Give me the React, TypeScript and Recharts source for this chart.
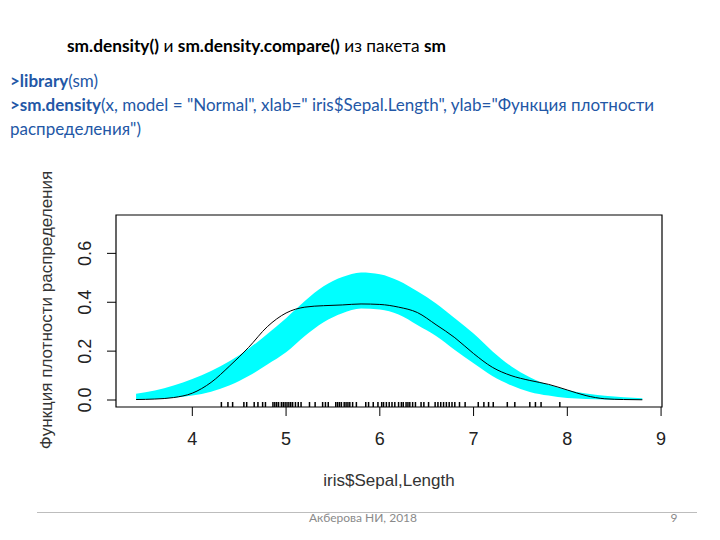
import React from "react";
import {
  ComposedChart,
  Area,
  Line,
  Scatter,
  XAxis,
  YAxis,
  ReferenceArea,
} from "recharts";

// Evaluation grid (Sepal.Length)
const xs = [
  3.4, 3.6, 3.8, 4.0, 4.2, 4.4, 4.6, 4.8, 5.0, 5.2, 5.4, 5.6, 5.8, 6.0,
  6.2, 6.4, 6.6, 6.8, 7.0, 7.2, 7.4, 7.6, 7.8, 8.0, 8.2, 8.4, 8.6, 8.8,
];
// Kernel density estimate (black curve)
const densityVals = [
  0.002, 0.004, 0.01, 0.028, 0.072, 0.14, 0.215, 0.3, 0.356, 0.38, 0.386,
  0.389, 0.393, 0.391, 0.38, 0.358, 0.308, 0.255, 0.19, 0.134, 0.1, 0.08,
  0.064, 0.041, 0.018, 0.005, 0.002, 0.001,
];
// Reference band for the Normal model (cyan)
const bandUpper = [
  0.026, 0.039, 0.059, 0.086, 0.119, 0.16, 0.21, 0.27, 0.335, 0.405, 0.465,
  0.503, 0.522, 0.515, 0.488, 0.445, 0.395, 0.335, 0.272, 0.2, 0.138, 0.093,
  0.062, 0.041, 0.027, 0.017, 0.011, 0.007,
];
const bandLower = [
  0.002, 0.004, 0.009, 0.018, 0.034, 0.06, 0.098, 0.145, 0.195, 0.262, 0.318,
  0.355, 0.374, 0.37, 0.35, 0.307, 0.262, 0.205, 0.15, 0.098, 0.06, 0.033,
  0.018, 0.008, 0.004, 0.002, 0.001, 0.0,
];
// Rug marks (observations)
const rugValues = [
  4.31, 4.38, 4.43, 4.55, 4.58, 4.66, 4.7, 4.75, 4.78, 4.86, 4.88, 4.9, 4.92,
  4.95, 4.97, 4.99, 5.01, 5.03, 5.05, 5.07, 5.1, 5.13, 5.16, 5.25, 5.31, 5.39,
  5.42, 5.45, 5.53, 5.55, 5.57, 5.59, 5.62, 5.64, 5.66, 5.68, 5.71, 5.75, 5.85,
  5.88, 5.93, 5.98, 6.02, 6.04, 6.07, 6.1, 6.13, 6.16, 6.2, 6.23, 6.25, 6.28,
  6.3, 6.32, 6.35, 6.38, 6.44, 6.47, 6.52, 6.59, 6.62, 6.65, 6.68, 6.71, 6.74,
  6.77, 6.8, 6.85, 6.91, 7.05, 7.11, 7.16, 7.21, 7.36, 7.44, 7.6, 7.66, 7.72,
  7.92,
];
const xTicks = [4, 5, 6, 7, 8, 9];
const yTicks = [0, 0.2, 0.4, 0.6];

const X_MIN = 3.186;
const X_MAX = 9.01;
const Y_MIN = -0.0286;
const Y_MAX = 0.757;

const chartData = xs.map((x, i) => ({
  x,
  density: densityVals[i],
  band: [bandLower[i], bandUpper[i]],
}));
const rugData = rugValues.map((x) => ({ x, y: Y_MIN }));

const AXIS_FONT = "'Liberation Sans', Arial, sans-serif";
const SLIDE_FONT = "Lato, 'Open Sans', sans-serif";

const YTick = (props: any) => {
  const { x, y, payload } = props;
  return (
    <text
      x={x}
      y={y}
      transform={`rotate(-90 ${x} ${y})`}
      textAnchor="middle"
      fontSize={18}
      fill="#222"
      fontFamily={AXIS_FONT}
    >
      {Number(payload.value).toFixed(1)}
    </text>
  );
};

const RugMark = (props: any) => {
  const { cx, cy } = props;
  return <line x1={cx} x2={cx} y1={cy} y2={cy - 5} stroke="#000" strokeWidth={1.5} />;
};

export default function App() {
  const blue = "#2357a6";
  return (
    <div
      style={{
        position: "absolute",
        left: 0,
        top: 0,
        width: 720,
        height: 540,
        background: "#fff",
        overflow: "hidden",
      }}
    >
      <div
        style={{
          position: "absolute",
          left: 67,
          top: 35,
          fontFamily: SLIDE_FONT,
          fontSize: 17.3,
          color: "#000",
          whiteSpace: "nowrap",
        }}
      >
        <b>sm.density()</b> и <b>sm.density.compare()</b> из пакета <b>sm</b>
      </div>
      <div
        style={{
          position: "absolute",
          left: 10,
          top: 69,
          fontFamily: SLIDE_FONT,
          fontSize: 17,
          lineHeight: "24px",
          color: blue,
          whiteSpace: "nowrap",
        }}
      >
        <div>
          <b>&gt;library</b>(sm)
        </div>
        <div>
          <b>&gt;sm.density</b>(x, model = "Normal", xlab=" iris$Sepal.Length", ylab="Функция плотности
        </div>
        <div>распределения")</div>
      </div>

      <div style={{ position: "absolute", left: 0, top: 0 }}>
        <ComposedChart
          width={720}
          height={540}
          data={chartData}
          margin={{ top: 215, right: 58, bottom: 103, left: 56 }}
        >
          <XAxis
            dataKey="x"
            type="number"
            domain={[X_MIN, X_MAX]}
            ticks={xTicks}
            allowDataOverflow
            axisLine={false}
            tickLine={{ stroke: "#000" }}
            tickSize={9}
            tickMargin={16}
            tick={{ fontSize: 18, fill: "#222", fontFamily: AXIS_FONT }}
            height={30}
          />
          <YAxis
            type="number"
            domain={[Y_MIN, Y_MAX]}
            ticks={yTicks}
            allowDataOverflow
            axisLine={false}
            tickLine={{ stroke: "#000" }}
            tickSize={9}
            tickMargin={16}
            tick={<YTick />}
            width={60}
          />
          <Area
            type="monotone"
            dataKey="band"
            stroke="none"
            fill="#00ffff"
            fillOpacity={1}
            isAnimationActive={false}
            activeDot={false}
          />
          <Line
            type="monotone"
            dataKey="density"
            stroke="#000"
            strokeWidth={1}
            dot={false}
            activeDot={false}
            isAnimationActive={false}
          />
          <Scatter
            data={rugData}
            dataKey="y"
            shape={<RugMark />}
            isAnimationActive={false}
          />
          <ReferenceArea
            x1={X_MIN}
            x2={X_MAX}
            y1={Y_MIN}
            y2={Y_MAX}
            fill="none"
            stroke="#000"
            strokeWidth={1.2}
            ifOverflow="visible"
          />
        </ComposedChart>
      </div>

      <div
        style={{
          position: "absolute",
          left: 389,
          top: 481,
          transform: "translate(-50%, -50%)",
          fontFamily: AXIS_FONT,
          fontSize: 17,
          color: "#333",
          whiteSpace: "nowrap",
        }}
      >
        iris$Sepal,Length
      </div>
      <div
        style={{
          position: "absolute",
          left: 47,
          top: 310,
          transform: "translate(-50%, -50%) rotate(-90deg)",
          fontFamily: AXIS_FONT,
          fontSize: 17,
          color: "#333",
          whiteSpace: "nowrap",
        }}
      >
        Функция плотности распределения
      </div>

      <div
        style={{
          position: "absolute",
          left: 37,
          top: 512,
          width: 660,
          height: 1,
          background: "#bdbdbd",
        }}
      />
      <div
        style={{
          position: "absolute",
          left: 363,
          top: 517,
          transform: "translate(-50%, -50%)",
          fontFamily: SLIDE_FONT,
          fontSize: 12,
          color: "#8a8a8a",
          whiteSpace: "nowrap",
        }}
      >
        Акберова НИ, 2018
      </div>
      <div
        style={{
          position: "absolute",
          left: 674,
          top: 517,
          transform: "translate(-50%, -50%)",
          fontFamily: SLIDE_FONT,
          fontSize: 12,
          color: "#8a8a8a",
        }}
      >
        9
      </div>
    </div>
  );
}
